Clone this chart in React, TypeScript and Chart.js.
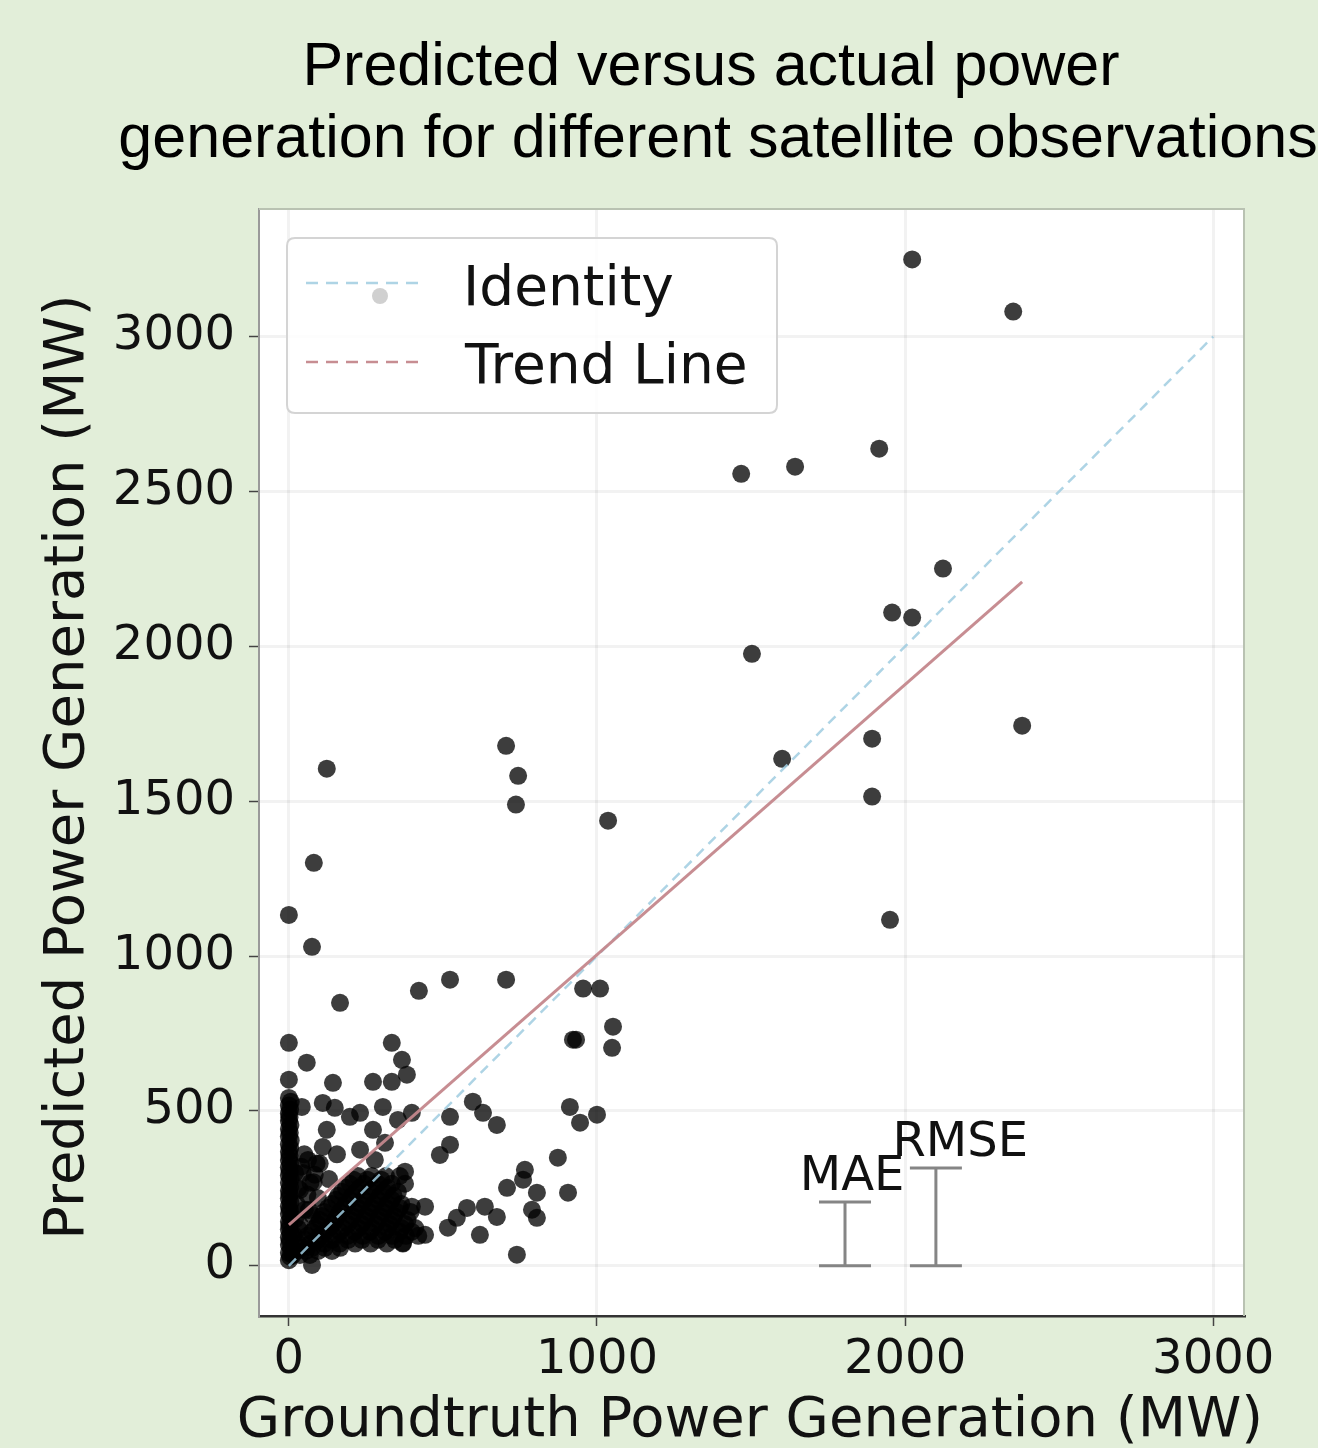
import React, { useEffect, useRef } from 'react';
import { Chart, registerables } from 'chart.js';

Chart.register(...registerables);

const titleLines = ['Predicted versus actual power', 'generation for different satellite observations'];
const xAxisTitle = 'Groundtruth Power Generation (MW)';
const yAxisTitle = 'Predicted Power Generation (MW)';
const xTickValues = [0, 1000, 2000, 3000];
const yTickValues = [0, 500, 1000, 1500, 2000, 2500, 3000];
const legendLabels = ['Identity', 'Trend Line'];

// isolated large-value sites
const outlierActual = [2023, 2351, 1468, 1643, 1916, 2123, 1958, 2023, 1503, 2380, 1893, 1601, 1893, 1951, 123, 705, 744, 737, 1036, 81, 0, 75];
const outlierPredicted = [3249, 3081, 2557, 2580, 2638, 2251, 2109, 2093, 1976, 1744, 1702, 1637, 1515, 1117, 1605, 1679, 1582, 1489, 1437, 1301, 1133, 1030];

// mid-range sites
const midActual = [166, 422, 523, 705, 955, 1010, 1052, 1049, 922, 932, 0, 334, 58, 367, 383, 0, 143, 273, 334, 42, 110, 149, 198, 231, 305, 399, 354, 597, 630, 675, 523, 273, 123, 912, 945, 1000, 523, 490, 873, 110, 62, 231, 312, 279, 377, 766, 760, 708, 805, 906, 789, 805, 675, 636, 578, 545, 516, 620, 740, 442, 442, 370, 399, 75];
const midPredicted = [849, 888, 924, 924, 895, 895, 772, 704, 730, 730, 720, 720, 656, 665, 617, 601, 591, 594, 594, 513, 526, 510, 481, 494, 513, 494, 471, 530, 494, 455, 481, 439, 439, 513, 462, 488, 391, 358, 349, 384, 342, 375, 397, 342, 304, 310, 278, 252, 236, 236, 181, 155, 158, 191, 187, 155, 123, 100, 36, 191, 100, 74, 191, 3];

// sites with near-zero groundtruth
const zeroActual = [0, 4, 0, 6, 0, 3, 0, 5, 0, 2, 0, 6, 0, 3, 0, 5, 0, 2, 0, 4, 0, 6, 0, 3, 0, 5, 0, 2, 0, 4, 0, 6, 0, 3, 0, 5, 0, 2, 0, 4, 0, 6, 0];
const zeroPredicted = [18, 30, 42, 55, 68, 80, 92, 105, 118, 130, 142, 155, 168, 180, 192, 205, 218, 230, 242, 255, 268, 280, 292, 305, 318, 330, 342, 355, 368, 380, 392, 405, 418, 430, 442, 455, 468, 480, 492, 505, 518, 530, 542];

// dense low-power cluster
const clusterActual = [13, 36, 68, 36, 75, 117, 166, 52, 94, 140, 192, 237, 289, 344, 75, 120, 166, 214, 263, 312, 360, 399, 94, 143, 192, 237, 282, 328, 377, 107, 159, 205, 250, 295, 341, 127, 179, 224, 269, 315, 360, 153, 198, 244, 289, 334, 172, 218, 263, 308, 354, 198, 244, 289, 334, 377, 224, 269, 315, 360, 36, 84, 52, 94, 36, 75, 45, 90, 130, 156, 70];
const clusterPredicted = [35, 35, 35, 58, 58, 58, 58, 84, 84, 84, 84, 84, 84, 84, 110, 110, 110, 110, 110, 110, 110, 110, 135, 135, 135, 135, 135, 135, 135, 161, 161, 161, 161, 161, 161, 187, 187, 187, 187, 187, 187, 213, 213, 213, 213, 213, 239, 239, 239, 239, 239, 265, 265, 265, 265, 265, 290, 290, 290, 290, 245, 294, 181, 219, 132, 165, 300, 330, 280, 360, 268];

// further low-power sites filling the cluster
const denseActual = [25, 55, 95, 140, 30, 70, 115, 165, 215, 265, 318, 370, 60, 100, 145, 190, 240, 290, 335, 380, 420, 85, 130, 175, 225, 270, 320, 365, 410, 100, 150, 200, 245, 290, 335, 385, 115, 165, 215, 260, 305, 350, 395, 140, 185, 230, 275, 320, 365, 160, 205, 250, 295, 340, 185, 230, 275, 320, 210, 255, 300, 20, 25, 30, 40, 60, 80, 20, 50, 100, 65, 15, 30];
const densePredicted = [48, 48, 48, 48, 72, 72, 72, 72, 72, 72, 72, 72, 97, 97, 97, 97, 97, 97, 97, 97, 97, 122, 122, 122, 122, 122, 122, 122, 122, 148, 148, 148, 148, 148, 148, 148, 174, 174, 174, 174, 174, 174, 174, 200, 200, 200, 200, 200, 200, 226, 226, 226, 226, 226, 252, 252, 252, 252, 278, 278, 278, 150, 200, 250, 320, 230, 270, 300, 360, 330, 180, 100, 120];

const identityX = [0, 3000];
const identityY = [0, 3000];
const trendX = [0, 2380];
const trendY = [132, 2208];

const errorLabels = ['MAE', 'RMSE'];
const errorX = [1805, 2100];
const errorTop = [206, 316];
const errorLabelX = [1828, 2179];
const errorLabelY = [245, 355];

const BG = '#e2eed9';
const IDENTITY_COLOR = 'rgba(160,205,225,0.85)';
const TREND_COLOR = 'rgba(196,135,140,0.95)';

function pairs(xs: number[], ys: number[]) {
  return xs.map((x, i) => ({ x, y: ys[i] }));
}

const decor = {
  id: 'decor',
  beforeDraw(chart: any) {
    const { ctx, chartArea: a } = chart;
    ctx.save();
    ctx.fillStyle = '#ffffff';
    ctx.fillRect(a.left, a.top, a.right - a.left, a.bottom - a.top);
    ctx.restore();
  },
  afterDraw(chart: any) {
    const { ctx, chartArea: a, scales } = chart;
    const xs = scales.x;
    const ys = scales.y;
    ctx.save();

    // top/right frame
    ctx.strokeStyle = '#b9c2b2';
    ctx.lineWidth = 2;
    ctx.beginPath();
    ctx.moveTo(a.left, a.top);
    ctx.lineTo(a.right, a.top);
    ctx.lineTo(a.right, a.bottom);
    ctx.stroke();

    // title
    ctx.fillStyle = '#000';
    ctx.font = "61px 'Liberation Sans', Arial, sans-serif";
    ctx.textAlign = 'center';
    ctx.textBaseline = 'alphabetic';
    ctx.fillText(titleLines[0], 711, 85);
    ctx.fillText(titleLines[1], 718, 157);

    // axis titles
    ctx.fillStyle = '#111';
    ctx.font = "56px 'DejaVu Sans', sans-serif";
    ctx.fillText(xAxisTitle, 750, 1436);
    ctx.save();
    ctx.translate(83, 767);
    ctx.rotate(-Math.PI / 2);
    ctx.fillText(yAxisTitle, 0, 0);
    ctx.restore();

    // error bars
    ctx.strokeStyle = '#858585';
    ctx.lineWidth = 3;
    for (let i = 0; i < errorX.length; i++) {
      const px = xs.getPixelForValue(errorX[i]);
      const p0 = ys.getPixelForValue(0);
      const p1 = ys.getPixelForValue(errorTop[i]);
      ctx.beginPath();
      ctx.moveTo(px, p0);
      ctx.lineTo(px, p1);
      ctx.moveTo(px - 26, p0);
      ctx.lineTo(px + 26, p0);
      ctx.moveTo(px - 26, p1);
      ctx.lineTo(px + 26, p1);
      ctx.stroke();
    }
    ctx.fillStyle = '#111';
    ctx.font = "48px 'DejaVu Sans', sans-serif";
    ctx.textAlign = 'center';
    ctx.textBaseline = 'alphabetic';
    for (let i = 0; i < errorLabels.length; i++) {
      ctx.fillText(errorLabels[i], xs.getPixelForValue(errorLabelX[i]), ys.getPixelForValue(errorLabelY[i]));
    }

    // legend
    const lx = 287, ly = 238, lw = 490, lh = 175, r = 8;
    ctx.beginPath();
    ctx.moveTo(lx + r, ly);
    ctx.lineTo(lx + lw - r, ly);
    ctx.quadraticCurveTo(lx + lw, ly, lx + lw, ly + r);
    ctx.lineTo(lx + lw, ly + lh - r);
    ctx.quadraticCurveTo(lx + lw, ly + lh, lx + lw - r, ly + lh);
    ctx.lineTo(lx + r, ly + lh);
    ctx.quadraticCurveTo(lx, ly + lh, lx, ly + lh - r);
    ctx.lineTo(lx, ly + r);
    ctx.quadraticCurveTo(lx, ly, lx + r, ly);
    ctx.closePath();
    ctx.fillStyle = 'rgba(255,255,255,0.85)';
    ctx.fill();
    ctx.strokeStyle = '#d4d4d4';
    ctx.lineWidth = 2;
    ctx.stroke();

    ctx.setLineDash([12, 8]);
    ctx.lineWidth = 2.5;
    ctx.strokeStyle = IDENTITY_COLOR;
    ctx.beginPath();
    ctx.moveTo(306, 283);
    ctx.lineTo(420, 283);
    ctx.stroke();
    ctx.strokeStyle = TREND_COLOR;
    ctx.beginPath();
    ctx.moveTo(306, 362);
    ctx.lineTo(420, 362);
    ctx.stroke();
    ctx.setLineDash([]);
    ctx.fillStyle = '#d0d0d0';
    ctx.beginPath();
    ctx.arc(380, 296, 8, 0, Math.PI * 2);
    ctx.fill();

    ctx.fillStyle = '#111';
    ctx.font = "55px 'DejaVu Sans', sans-serif";
    ctx.textAlign = 'left';
    ctx.fillText(legendLabels[0], 463, 305);
    ctx.fillText(legendLabels[1], 465, 383);

    ctx.restore();
  },
};

export default function App() {
  const ref = useRef<HTMLCanvasElement | null>(null);

  useEffect(() => {
    document.body.style.margin = '0';
    const canvas = ref.current;
    if (!canvas) return;
    const points = [
      ...pairs(outlierActual, outlierPredicted),
      ...pairs(midActual, midPredicted),
      ...pairs(zeroActual, zeroPredicted),
      ...pairs(clusterActual, clusterPredicted),
      ...pairs(denseActual, densePredicted),
    ];
    const tickFont = { family: "'DejaVu Sans', sans-serif", size: 48 };
    const plain = (v: any) => String(v);
    const chart = new Chart(canvas, {
      type: 'scatter',
      data: {
        datasets: [
          {
            label: 'Sites',
            data: points,
            backgroundColor: 'rgba(0,0,0,0.76)',
            borderWidth: 0,
            pointRadius: 9,
            order: 10,
          },
          {
            label: 'Identity',
            data: pairs(identityX, identityY),
            showLine: true,
            borderColor: IDENTITY_COLOR,
            borderDash: [10, 7],
            borderWidth: 2.5,
            pointRadius: 0,
            order: 1,
          },
          {
            label: 'Trend Line',
            data: pairs(trendX, trendY),
            showLine: true,
            borderColor: TREND_COLOR,
            borderWidth: 3,
            pointRadius: 0,
            order: 0,
          },
        ],
      },
      options: {
        responsive: false,
        animation: false,
        devicePixelRatio: 1,
        layout: { padding: { left: 0, top: 209, right: 74, bottom: 0 } },
        plugins: { legend: { display: false }, tooltip: { enabled: false }, title: { display: false } },
        scales: {
          x: {
            type: 'linear',
            min: -97,
            max: 3100,
            afterBuildTicks: (s: any) => {
              s.ticks = xTickValues.map((v) => ({ value: v }));
            },
            afterFit: (s: any) => {
              s.height = 132;
            },
            ticks: { font: tickFont, color: '#111', padding: 6, maxRotation: 0, callback: plain },
            grid: { color: 'rgba(0,0,0,0.05)', lineWidth: 3, tickLength: 10, tickColor: '#444', tickWidth: 1.5 },
            border: { color: '#333', width: 2.5 },
          },
          y: {
            type: 'linear',
            min: -162,
            max: 3412,
            afterBuildTicks: (s: any) => {
              s.ticks = yTickValues.map((v) => ({ value: v }));
            },
            afterFit: (s: any) => {
              s.width = 259;
            },
            ticks: { font: tickFont, color: '#111', padding: 14, callback: plain },
            grid: { color: 'rgba(0,0,0,0.05)', lineWidth: 3, tickLength: 10, tickColor: '#444', tickWidth: 1.5 },
            border: { color: '#9a9a9a', width: 2 },
          },
        },
      },
      plugins: [decor],
    } as any);
    return () => chart.destroy();
  }, []);

  return (
    <div style={{ width: 1318, height: 1448, background: BG, position: 'relative' }}>
      <canvas ref={ref} width={1318} height={1448} style={{ display: 'block' }} />
    </div>
  );
}
